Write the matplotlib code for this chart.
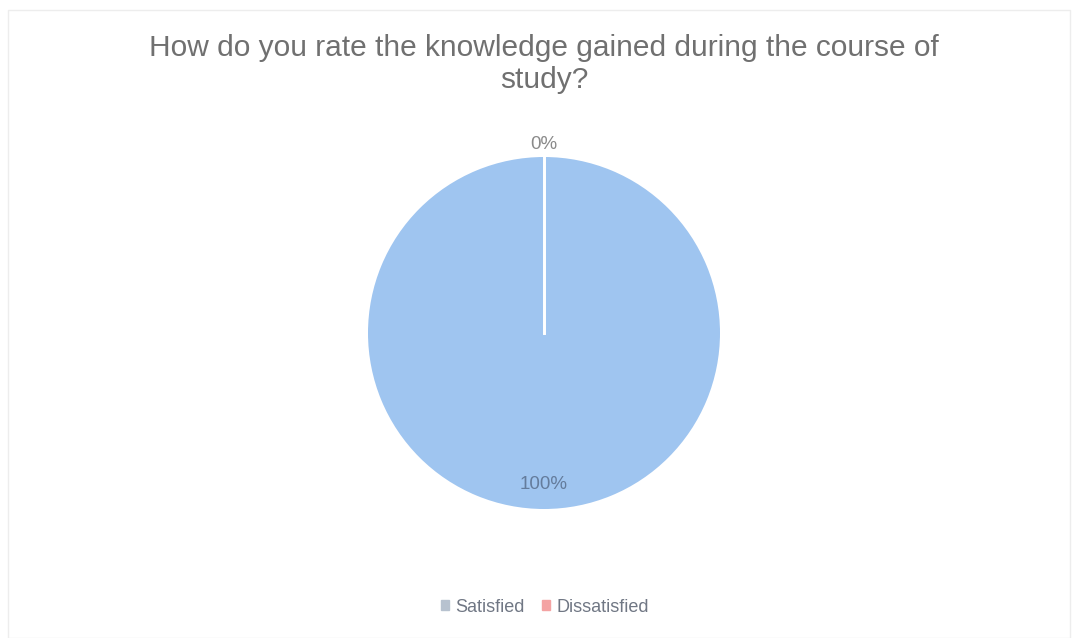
import matplotlib.pyplot as plt
import numpy as np

# survey answers
labels = ['Satisfied', 'Dissatisfied']
values = [100, 0]
colors = ['#9fc5f0', '#f4a3a3']
legend_colors = ['#b7c2cf', '#f4a3a3']

W, H = 1078, 638
fig = plt.figure(figsize=(W / 100, H / 100), dpi=100)
plt.rcParams['font.family'] = ['Liberation Sans', 'DejaVu Sans']

# pie centre and radius in pixels
cx, cy, r = 544, 333, 176
ax = fig.add_axes([(cx - r) / W, (H - cy - r) / H, 2 * r / W, 2 * r / H])

wedges, _ = ax.pie(values, colors=colors, startangle=90, counterclock=False,
                   radius=1, wedgeprops=dict(linewidth=0))
ax.set_xlim(-1, 1)
ax.set_ylim(-1, 1)
ax.axis('off')

# white slice boundary lines + percentage labels
total = sum(values)
start = 90
for v in values:
    ang = np.deg2rad(start)
    ax.plot([0, np.cos(ang)], [0, np.sin(ang)], color='white', lw=2, zorder=3)
    mid = np.deg2rad(start - 180 * v / total)
    dist = 0.86 if v > 0 else 1.07
    ax.text(dist * np.cos(mid), dist * np.sin(mid), f'{v / total:.0%}',
            ha='center', va='center', fontsize=13.5,
            color='#647c9c' if v > 0 else '#8a8a8a', zorder=4, clip_on=False)
    start -= 360 * v / total

fig.text(cx / W, 1 - 48 / H, 'How do you rate the knowledge gained during the course of',
         ha='center', va='center', fontsize=21.5, color='#707070')
fig.text(cx / W, 1 - 80 / H, 'study?', ha='center', va='center', fontsize=21.5, color='#707070')

handles = [plt.Rectangle((0, 0), 1, 1, color=c) for c in legend_colors]
fig.legend(handles, labels, loc='center', bbox_to_anchor=(545 / W, 1 - 607 / H), ncol=2,
           frameon=False, fontsize=13, handlelength=0.4, handleheight=0.4,
           handletextpad=0.35, columnspacing=1.0, labelcolor='#707784')

# faint outer frame of the scanned chart
fig.add_artist(plt.Rectangle((8 / W, 0), 1 - 16 / W, 1 - 10 / H, transform=fig.transFigure,
                             fill=False, edgecolor='#ededed', lw=1))

fig.savefig('out.png', dpi=100, facecolor='white')
